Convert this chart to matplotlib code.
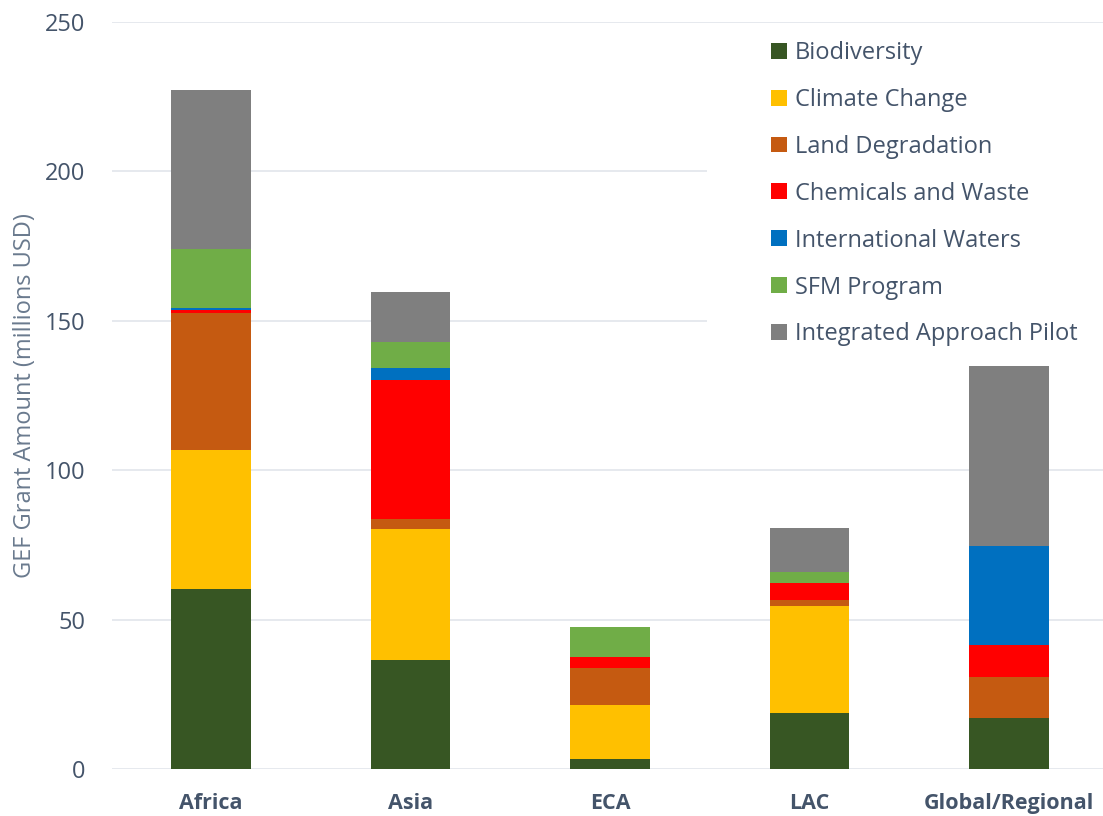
import matplotlib
matplotlib.use("Agg")
import matplotlib.pyplot as plt
from matplotlib.patches import Patch, Rectangle

plt.rcParams['font.family'] = ['Open Sans', 'DejaVu Sans']

regions = ["Africa", "Asia", "ECA", "LAC", "Global/Regional"]
focal_areas = ["Biodiversity", "Climate Change", "Land Degradation", "Chemicals and Waste",
               "International Waters", "SFM Program", "Integrated Approach Pilot"]

biodiversity = [60.2, 36.5, 3.4, 18.7, 17.0]
climate_change = [46.5, 43.8, 17.9, 35.8, 0.0]
land_degradation = [45.9, 3.3, 12.5, 1.9, 13.8]
chemicals_waste = [1.1, 46.5, 3.6, 5.8, 10.6]
intl_waters = [0.5, 4.0, 0.0, 0.0, 33.3]
sfm_program = [19.7, 8.7, 10.2, 3.9, 0.0]
iap = [53.5, 16.8, 0.0, 14.4, 60.1]

colors = ["#375623", "#FFC000", "#C55A11", "#FF0000", "#0070C0", "#70AD47", "#7F7F7F"]
series = [biodiversity, climate_change, land_degradation, chemicals_waste,
          intl_waters, sfm_program, iap]

TXT = "#44546A"

fig = plt.figure(figsize=(11.03, 8.16), dpi=100)
ax = fig.add_axes([0.1015, 0.0576, 0.8985, 0.9154])

x = list(range(len(regions)))
bottom = [0.0] * len(regions)
for vals, col, name in zip(series, colors, focal_areas):
    ax.bar(x, vals, bottom=bottom, width=0.4, color=col, label=name, zorder=3)
    bottom = [bottom[i] + vals[i] for i in range(len(bottom))]

ax.set_ylim(0, 250)
ax.set_xlim(-0.496, 4.471)
ax.set_yticks([0, 50, 100, 150, 200, 250])
ax.yaxis.grid(True, color="#E1E5EB", linewidth=1.2, zorder=0)
ax.set_axisbelow(True)
for s in ax.spines.values():
    s.set_visible(False)
ax.tick_params(axis="both", length=0)
ax.tick_params(axis="y", labelsize=17, labelcolor=TXT, pad=19)
ax.set_xticks(x)
ax.set_xticklabels(regions, fontsize=15.5, fontweight="bold", color=TXT)
ax.tick_params(axis="x", pad=17)
ax.set_ylabel("GEF Grant Amount (millions USD)", fontsize=17, color="#6A7A8E", labelpad=6)

# white legend area covering the gridlines
ax.add_patch(Rectangle((707 / 1103, 1 - 362 / 816), (1103 - 707) / 1103, (362 - 26) / 816,
                       transform=fig.transFigure, facecolor="white", edgecolor="none",
                       zorder=1, clip_on=False))

handles = [Patch(facecolor=c, label=n) for c, n in zip(colors, focal_areas)]
leg = fig.legend(handles=handles, loc="upper left", bbox_to_anchor=(0.684, 0.97),
                 frameon=False, fontsize=17, handlelength=0.66, handleheight=0.66,
                 handletextpad=0.34, labelspacing=0.97, borderpad=0.2)
for t in leg.get_texts():
    t.set_color(TXT)

fig.savefig("out.png", dpi=100)
